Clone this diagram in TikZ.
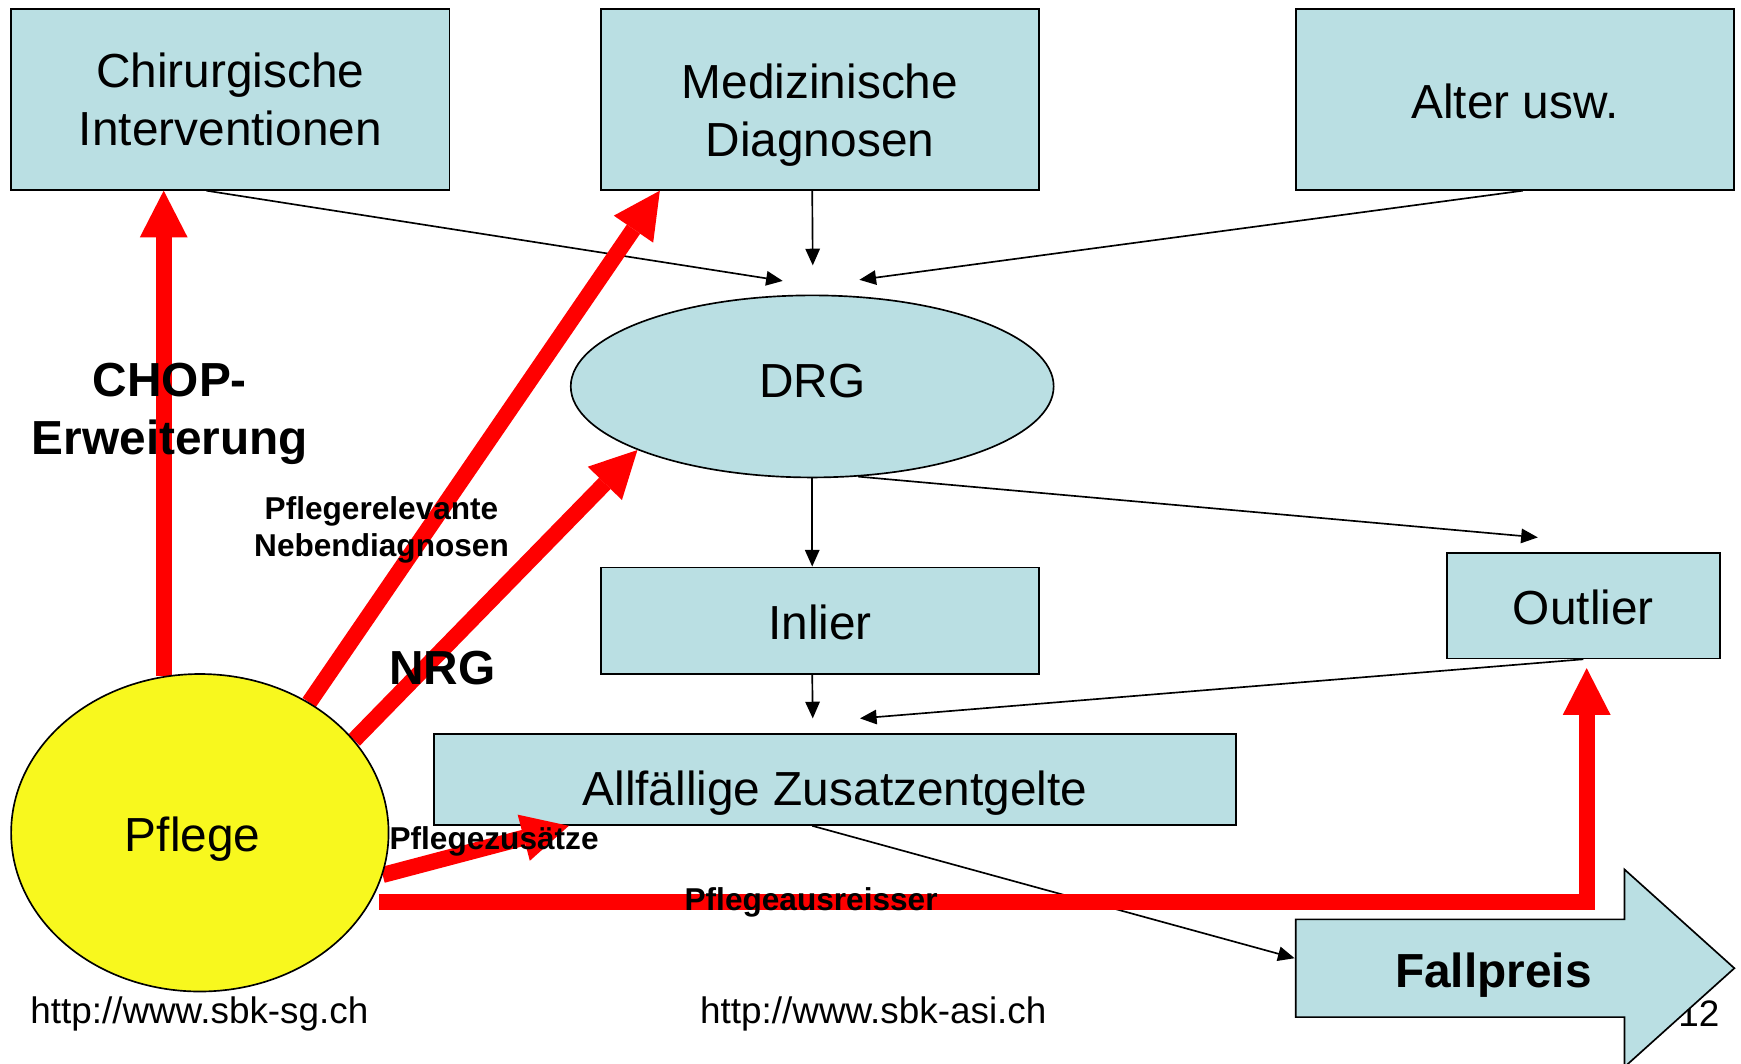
\documentclass[tikz,border=0pt]{standalone}
\usepackage{fontspec}
\setmainfont{Liberation Sans}
\usetikzlibrary{arrows.meta,shapes.geometric,backgrounds}
\pgfdeclarelayer{front}
\pgfsetlayers{background,main,front}
\definecolor{boxblue}{RGB}{186,223,227}
\definecolor{pflegeyellow}{RGB}{248,248,30}
\definecolor{arrowred}{RGB}{255,0,0}
\newcommand{\mainsz}{\fontsize{24.5pt}{29.9pt}\selectfont}
\newcommand{\lblsz}{\fontsize{16.2pt}{19.1pt}\selectfont}
\newcommand{\footsz}{\fontsize{18.9pt}{22pt}\selectfont}
\begin{document}
\begin{tikzpicture}[x=0.02cm,y=-0.02cm,
  box/.style={draw=black, line width=0.03cm, fill=boxblue, inner sep=0pt, font=\mainsz, align=center},
  ell/.style={ellipse, draw=black, line width=0.03cm, inner sep=0pt, font=\mainsz},
  lbl/.style={font=\lblsz\bfseries, align=center, inner sep=0pt},
  big/.style={font=\mainsz\bfseries, align=center, inner sep=0pt},
  foot/.style={font=\footsz, inner sep=0pt},
  conn/.style={draw=black, line width=0.03cm, -{Triangle[length=0.3cm,width=0.26cm]}},
  redarrow/.style={draw=arrowred, line width=0.29cm, -{Triangle[length=0.84cm,width=0.86cm,line width=0pt]}},
  fparrow/.style={draw=black, line width=0.03cm, fill=boxblue}
]
\useasboundingbox (0,0) rectangle (1568,958);

% boxes and ellipses
\node[box, minimum width=7.9cm, minimum height=3.26cm] (chir) at (207.5,89.5) {Chirurgische\\Interventionen};
\node[box, minimum width=7.9cm, minimum height=3.26cm] (med) at (738.5,89.5) {\rule{0pt}{1.37em}Medizinische\\Diagnosen};
\node[box, minimum width=7.9cm, minimum height=3.26cm, text height=0.915cm, text depth=0.215cm] (alter) at (1364.5,89.5) {Alter usw.};
\node[ell, fill=boxblue, minimum width=8.7cm, minimum height=3.28cm, text height=0.631cm, text depth=0.215cm] (drg) at (731.5,348) {DRG};
\node[box, minimum width=7.9cm, minimum height=1.92cm, text height=0.894cm, text depth=0.215cm] (inlier) at (738.5,559) {Inlier};
\node[box, minimum width=4.92cm, minimum height=1.9cm, text height=0.894cm, text depth=0.215cm] (outlier) at (1426,545.5) {Outlier};
\node[box, minimum width=14.44cm, minimum height=1.64cm, text height=1.17cm, text depth=0.215cm] (allf) at (752,702) {Allfällige Zusatzentgelte};
\begin{pgfonlayer}{front}
\node[ell, fill=pflegeyellow, minimum width=6.8cm, minimum height=5.72cm, text height=0.894cm, text depth=0.215cm] (pflege) at (180,750) {Pflege\kern0.26cm};
\end{pgfonlayer}

% footer and page number
\node[foot] (url1) at (179.5,913.5) {http://www.sbk-sg.ch};
\node[foot] (url2) at (786.5,913.5) {http://www.sbk-asi.ch};
\node[foot] (pagenum) at (1530,912.5) {12};

% Fallpreis block arrow
\path[fparrow] (1167,828) -- (1463,828) -- (1463,783) -- (1562,872) -- (1463,961) -- (1463,916) -- (1167,916) -- cycle;
\node[big] (fallpreis) at (1345,878) {Fallpreis};

% free ends of the black connectors
\coordinate (drgin1) at (705,253);
\coordinate (drgin2) at (732,239);
\coordinate (drgin3) at (774,252);
\coordinate (outin) at (1385,484);
\coordinate (allfin1) at (732,647);
\coordinate (allfin2) at (774.5,647);
\coordinate (fpin) at (1166,863);

\begin{scope}[on background layer]
\fill[white] (0,0) rectangle (1568,958);
\draw[conn] ([xshift=-0.43cm]chir.south) -- (drgin1);
\draw[conn] (drg.north |- med.south) -- (drgin2);
\draw[conn] ([xshift=0.14cm]alter.south) -- (drgin3);
\draw[conn] (drg.south) -- (drg.south |- inlier.north);
\draw[conn] (drg.-63) -- (outin);
\draw[conn] (drg.south |- inlier.south) -- (allfin1);
\draw[conn] (outlier.south) -- (allfin2);
\draw[conn] (drg.south |- allf.south) -- (fpin);
\end{scope}

% red arrows
\draw[redarrow] (pflege.103.6) -- (pflege.103.6 |- chir.south);
\draw[redarrow] (pflege.50.3) -- ([xshift=1.08cm]med.south west);
\draw[redarrow] (pflege.31.6) -- (drg.200.4);
\draw[redarrow] (pflege.-13) -- ([xshift=2.44cm]allf.south west);
\draw[redarrow, line join=miter] ([xshift=0.14cm]pflege.-22.4) -| ([xshift=0.06cm,yshift=-0.16cm]outlier.south);

% labels
\node[big] (chop) at (153,373) {CHOP-\\Erweiterung};
\node[lbl] (pflrel) at (343.6,477) {Pflegerelevante\\Nebendiagnosen};
\node[big] (nrg) at (398.5,602) {NRG};
\node[lbl] (pflzus) at (445,757.6) {Pflegezusätze};
\node[lbl] (pflaus) at (730.5,812.6) {Pflegeausreisser};
\end{tikzpicture}
\end{document}
